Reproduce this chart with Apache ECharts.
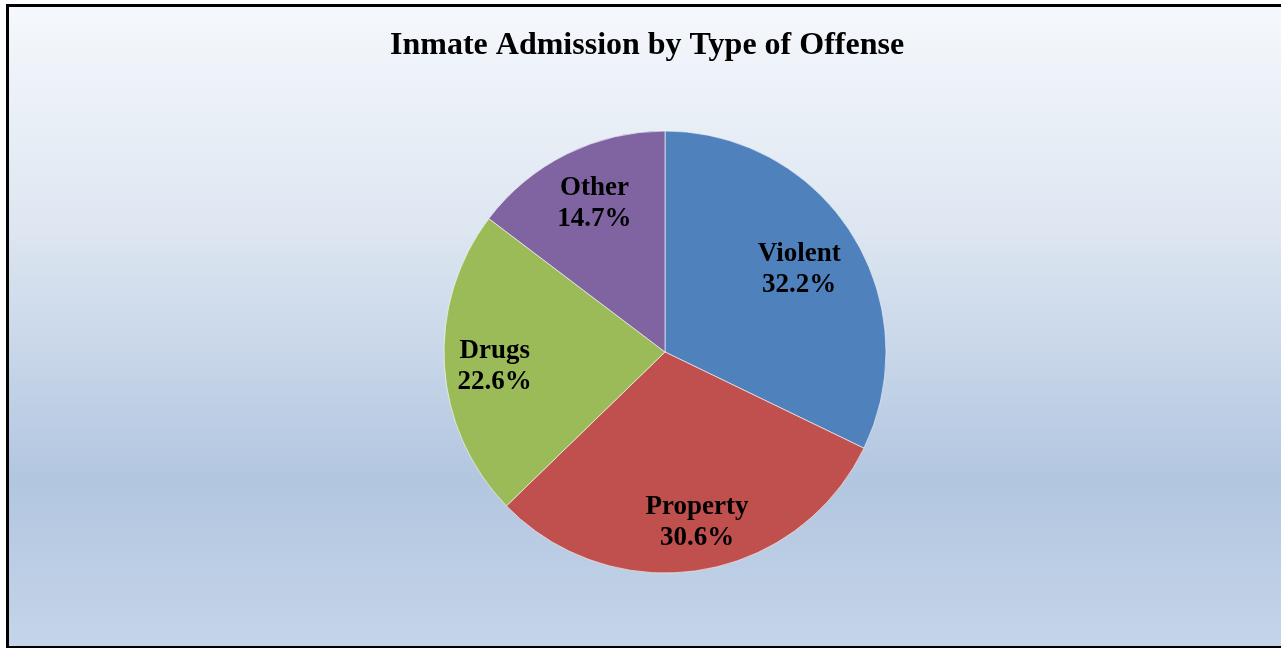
<!DOCTYPE html>
<html>
<head>
<meta charset="utf-8">
<script src="https://cdn.jsdelivr.net/npm/echarts@6/dist/echarts.min.js"></script>
<style>
html, body { margin: 0; padding: 0; background: #ffffff; width: 1281px; height: 648px; overflow: hidden; }
#frame { position: absolute; left: 6px; top: 4px; width: 1281px; height: 639px; border-left: 3px solid #000; border-top: 3px solid #000; border-bottom: 2px solid #000; }
#chart { width: 1281px; height: 639px; }
</style>
</head>
<body>
<div id="frame"><div id="chart"></div></div>
<script>
var categories = ['Violent', 'Property', 'Drugs', 'Other'];
var values = [32.2, 30.6, 22.6, 14.7];
var colors = ['#4F81BD', '#C0504D', '#9BBB59', '#8064A2'];
var labelOffsets = [[38, -22], [14, 58], [-57, 8], [-20, -47]];

var chart = echarts.init(document.getElementById('chart'));
var data = categories.map(function (c, i) {
  return {
    name: c,
    value: values[i],
    itemStyle: { color: colors[i] },
    label: { offset: labelOffsets[i] }
  };
});
chart.setOption({
  animation: false,
  backgroundColor: {
    type: 'linear', x: 0, y: 0, x2: 0, y2: 1,
    colorStops: [
      { offset: 0, color: '#f5f8fc' },
      { offset: 0.35, color: '#dde6f1' },
      { offset: 0.74, color: '#b2c6e0' },
      { offset: 1, color: '#c5d5e9' }
    ]
  },
  title: {
    text: 'Inmate Admission by Type of Offense',
    left: 376,
    top: 18,
    textStyle: { fontFamily: "'Liberation Serif', 'Times New Roman', serif", fontWeight: 'bold', fontSize: 32, color: '#000' }
  },
  series: [{
    type: 'pie',
    center: [656, 345],
    radius: 221,
    startAngle: 90,
    clockwise: true,
    data: data,
    itemStyle: { borderColor: 'rgba(255,255,255,0.6)', borderWidth: 1 },
    label: {
      show: true,
      position: 'inside',
      formatter: function (p) { return p.name + '\n' + p.value.toFixed(1) + '%'; },
      fontFamily: "'Liberation Serif', 'Times New Roman', serif",
      fontWeight: 'bold',
      fontSize: 27,
      lineHeight: 31,
      color: '#000'
    },
    labelLine: { show: false },
    emphasis: { disabled: true }
  }]
});
</script>
</body>
</html>
